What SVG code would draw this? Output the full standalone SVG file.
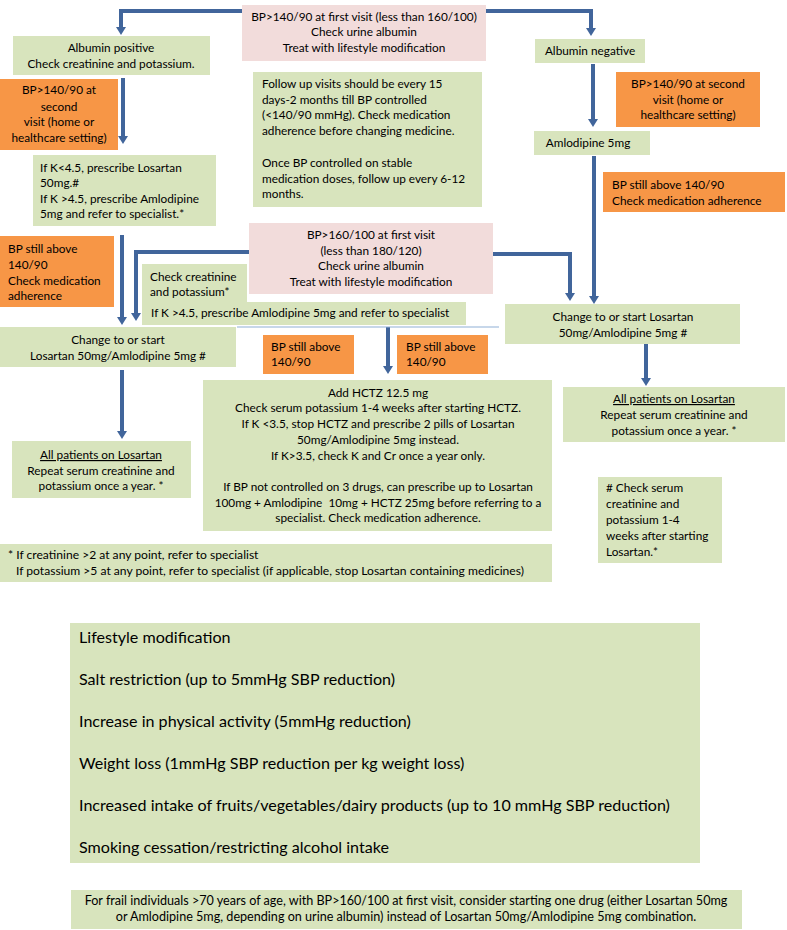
<svg xmlns="http://www.w3.org/2000/svg" width="787" height="930" viewBox="0 0 787 930">
<style>
.g{fill:#d8e4bd}
.p{fill:#f2dcdb}
.o{fill:#f79646}
text{font-family:Lato,"Liberation Sans",sans-serif;font-size:11.8px;fill:#000}
.c{text-anchor:middle}
.big{font-size:16.1px}
.fn{font-size:12.1px}
.fr{font-size:12.6px}
.con path{fill:none;stroke:#41659b;stroke-width:4}
.thin{stroke:#8fb0d6 !important;stroke-width:1.2 !important}
</style>
<defs>
<marker id="ah" markerUnits="userSpaceOnUse" markerWidth="9" markerHeight="10" refX="0" refY="5" orient="auto" viewBox="0 0 9 10">
<path d="M0,0 L8,5 L0,10 z" fill="#41659b"/>
</marker>
</defs>

<g class="con">
<path d="M242,11 H121 V27" marker-end="url(#ah)"/>
<path d="M486,11 H591 V28" marker-end="url(#ah)"/>
<path d="M123,78 V136" marker-end="url(#ah)"/>
<path d="M593,64 V119" marker-end="url(#ah)"/>
<path d="M594,156 V296" marker-end="url(#ah)"/>
<path d="M122,235 V317" marker-end="url(#ah)"/>
<path d="M249,252 H136 V313" marker-end="url(#ah)"/>
<path d="M493,254 H570 V293" marker-end="url(#ah)"/>
<path d="M388,327 V366" marker-end="url(#ah)"/>
<path d="M122,370 V431" marker-end="url(#ah)"/>
<path d="M646,344 V378" marker-end="url(#ah)"/>
<path class="thin" d="M237,327 H499"/>
</g>

<g id="start140">
<rect class="p" x="242" y="5" width="244" height="56"/>
<text class="c" x="364" y="21">BP&gt;140/90 at first visit (less than 160/100)</text>
<text class="c" x="364" y="36">Check urine albumin</text>
<text class="c" x="364" y="52">Treat with lifestyle modification</text>
</g>

<g id="albpos">
<rect class="g" x="13" y="36" width="197" height="39"/>
<text class="c" x="111" y="52">Albumin positive</text>
<text class="c" x="111" y="68">Check creatinine and potassium.</text>
</g>

<g id="second-left">
<rect class="o" x="0" y="79" width="118" height="71"/>
<text class="c" x="59" y="94">BP&gt;140/90 at</text>
<text class="c" x="59" y="111">second</text>
<text class="c" x="59" y="126">visit (home or</text>
<text class="c" x="59" y="142">healthcare setting)</text>
</g>

<g id="ifk">
<rect class="g" x="33" y="155" width="183" height="71"/>
<text x="40" y="172">If K&lt;4.5, prescribe Losartan</text>
<text x="40" y="187">50mg.#</text>
<text x="40" y="203">If K &gt;4.5, prescribe Amlodipine</text>
<text x="40" y="218">5mg and refer to specialist.*</text>
</g>

<g id="followup">
<rect class="g" x="253" y="72" width="229" height="135"/>
<text x="262" y="88">Follow up visits should be every 15</text>
<text x="262" y="104">days-2 months till BP controlled</text>
<text x="262" y="119">(&lt;140/90 mmHg). Check medication</text>
<text x="262" y="135">adherence before changing medicine.</text>
<text x="262" y="167">Once BP controlled on stable</text>
<text x="262" y="183">medication doses, follow up every 6-12</text>
<text x="262" y="198">months.</text>
</g>

<g id="albneg">
<rect class="g" x="535" y="39" width="110" height="24"/>
<text class="c" x="590" y="55">Albumin negative</text>
</g>

<g id="second-right">
<rect class="o" x="616" y="72" width="144" height="55"/>
<text class="c" x="688" y="88">BP&gt;140/90 at second</text>
<text class="c" x="688" y="104">visit (home or</text>
<text class="c" x="688" y="119">healthcare setting)</text>
</g>

<g id="amlo">
<rect class="g" x="534" y="131" width="116" height="24"/>
<text class="c" x="588" y="147">Amlodipine 5mg</text>
</g>

<g id="still-right">
<rect class="o" x="603" y="172" width="182" height="40"/>
<text x="612" y="189">BP still above 140/90</text>
<text x="612" y="205">Check medication adherence</text>
</g>

<g id="start160">
<rect class="p" x="249" y="223" width="244" height="71"/>
<text class="c" x="371" y="239">BP&gt;160/100 at first visit</text>
<text class="c" x="371" y="255">(less than 180/120)</text>
<text class="c" x="371" y="270">Check urine albumin</text>
<text class="c" x="371" y="286">Treat with lifestyle modification</text>
</g>

<g id="still-left">
<rect class="o" x="0" y="236" width="114" height="71"/>
<text x="8" y="253">BP still above</text>
<text x="8" y="269">140/90</text>
<text x="8" y="285">Check medication</text>
<text x="8" y="300">adherence</text>
</g>

<g id="checkcr">
<rect class="g" x="142" y="264" width="105" height="40"/>
<rect class="g" x="142" y="302" width="324" height="23"/>
<text x="150" y="281">Check creatinine</text>
<text x="150" y="296">and potassium*</text>
<text x="151" y="317">If K &gt;4.5, prescribe Amlodipine 5mg and refer to specialist</text>
</g>

<g id="change-left">
<rect class="g" x="0" y="327" width="236" height="40"/>
<text class="c" x="118" y="344">Change to or start</text>
<text class="c" x="118" y="360">Losartan 50mg/Amlodipine 5mg #</text>
</g>

<g id="still-mid1">
<rect class="o" x="263" y="335" width="91" height="39"/>
<text x="271" y="351">BP still above</text>
<text x="271" y="366">140/90</text>
</g>

<g id="still-mid2">
<rect class="o" x="397" y="335" width="91" height="39"/>
<text x="406" y="351">BP still above</text>
<text x="406" y="366">140/90</text>
</g>

<g id="change-right">
<rect class="g" x="505" y="304" width="235" height="40"/>
<text class="c" x="623" y="321">Change to or start Losartan</text>
<text class="c" x="623" y="337">50mg/Amlodipine 5mg #</text>
</g>

<g id="allpat-right">
<rect class="g" x="563" y="387" width="222" height="55"/>
<text class="c" x="674" y="403" text-decoration="underline">All patients on Losartan</text>
<text class="c" x="674" y="419">Repeat serum creatinine and</text>
<text class="c" x="674" y="435">potassium once a year. *</text>
</g>

<g id="allpat-left">
<rect class="g" x="12" y="441" width="179" height="57"/>
<text class="c" x="101" y="459" text-decoration="underline">All patients on Losartan</text>
<text class="c" x="101" y="475">Repeat serum creatinine and</text>
<text class="c" x="101" y="490">potassium once a year. *</text>
</g>

<g id="hctz">
<rect class="g" x="203" y="380" width="349" height="151"/>
<text class="c" x="378" y="397">Add HCTZ 12.5 mg</text>
<text class="c" x="378" y="412">Check serum potassium 1-4 weeks after starting HCTZ.</text>
<text class="c" x="378" y="428">If K &lt;3.5, stop HCTZ and prescribe 2 pills of Losartan</text>
<text class="c" x="378" y="444">50mg/Amlodipine 5mg instead.</text>
<text class="c" x="378" y="460">If K&gt;3.5, check K and Cr once a year only.</text>
<text class="c" x="378" y="491">If BP not controlled on 3 drugs, can prescribe up to Losartan</text>
<text class="c" x="378" y="507" xml:space="preserve">100mg + Amlodipine  10mg + HCTZ 25mg before referring to a</text>
<text class="c" x="378" y="522">specialist. Check medication adherence.</text>
</g>

<g id="hashnote">
<rect class="g" x="598" y="477" width="124" height="86"/>
<text x="606" y="492"># Check serum</text>
<text x="606" y="508">creatinine and</text>
<text x="606" y="524">potassium 1-4</text>
<text x="606" y="540">weeks after starting</text>
<text x="606" y="556">Losartan.*</text>
</g>

<g id="footnote">
<rect class="g" x="0" y="544" width="552" height="38"/>
<text class="fn" x="8" y="559">* If creatinine &gt;2 at any point, refer to specialist</text>
<text class="fn" x="16" y="575">If potassium &gt;5 at any point, refer to specialist (if applicable, stop Losartan containing medicines)</text>
</g>

<g id="lifestyle">
<rect class="g" x="70" y="623" width="630" height="240"/>
<text class="big" x="79" y="643">Lifestyle modification</text>
<text class="big" x="79" y="685">Salt restriction (up to 5mmHg SBP reduction)</text>
<text class="big" x="79" y="727">Increase in physical activity (5mmHg reduction)</text>
<text class="big" x="79" y="769">Weight loss (1mmHg SBP reduction per kg weight loss)</text>
<text class="big" x="79" y="811">Increased intake of fruits/vegetables/dairy products (up to 10 mmHg SBP reduction)</text>
<text class="big" x="79" y="853">Smoking cessation/restricting alcohol intake</text>
</g>

<g id="frail">
<rect class="g" x="71" y="890" width="671" height="39"/>
<text class="fr c" x="406" y="905">For frail individuals &gt;70 years of age, with BP&gt;160/100 at first visit, consider starting one drug (either Losartan 50mg</text>
<text class="fr c" x="406" y="921">or Amlodipine 5mg, depending on urine albumin) instead of Losartan 50mg/Amlodipine 5mg combination.</text>
</g>
</svg>
